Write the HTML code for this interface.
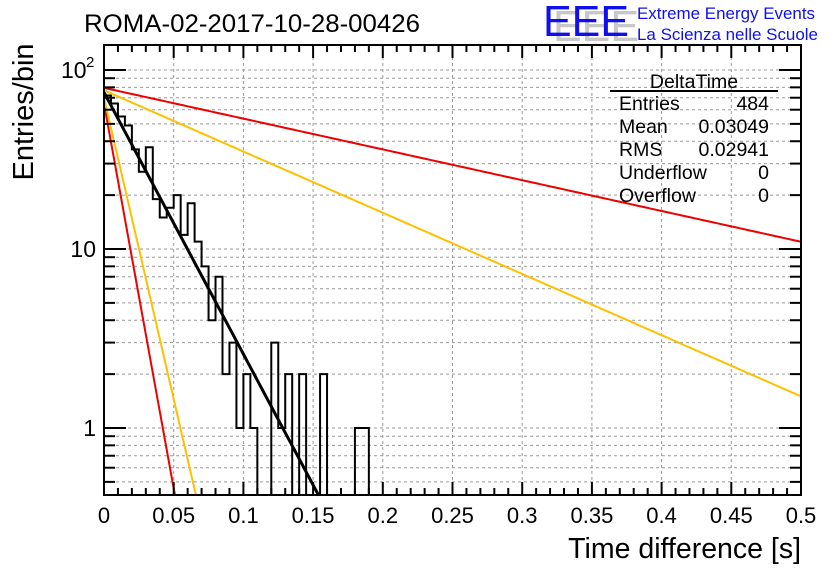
<!DOCTYPE html>
<html><head><meta charset="utf-8"><style>
html,body{margin:0;padding:0;background:#fff;}
svg{display:block;font-family:"Liberation Sans",sans-serif;}
</style></head><body>
<svg id="c" width="836" height="572" viewBox="0 0 836 572">
<rect width="836" height="572" fill="#fff"/>
<text x="84" y="32" font-size="25" fill="#000" textLength="336" lengthAdjust="spacingAndGlyphs">ROMA-02-2017-10-28-00426</text>
<g>
<text x="553" y="41" font-size="44" fill="#c8c8c8" textLength="86" lengthAdjust="spacingAndGlyphs">EEE</text>
<text x="543" y="36" font-size="44" fill="#1010ee" textLength="86" lengthAdjust="spacingAndGlyphs">EEE</text>
<text x="637" y="19" font-size="16.5" fill="#1010ee" textLength="178" lengthAdjust="spacingAndGlyphs">Extreme Energy Events</text>
<text x="637" y="40" font-size="16.5" fill="#1010ee" textLength="181" lengthAdjust="spacingAndGlyphs">La Scienza nelle Scuole</text>
</g>
<g id="grid"></g>
<g id="marks"></g>
<g id="axes"></g>
<g font-size="19.5" fill="#000">
<text x="694" y="88" text-anchor="middle">DeltaTime</text>
<line x1="610" y1="91" x2="778" y2="91" stroke="#000" stroke-width="2"/>
<text x="619" y="110">Entries</text><text x="769" y="110" text-anchor="end">484</text>
<text x="619" y="133">Mean</text><text x="769" y="133" text-anchor="end">0.03049</text>
<text x="619" y="156">RMS</text><text x="769" y="156" text-anchor="end">0.02941</text>
<text x="619" y="179">Underflow</text><text x="769" y="179" text-anchor="end">0</text>
<text x="619" y="202">Overflow</text><text x="769" y="202" text-anchor="end">0</text>
</g>
<text x="801" y="558" font-size="28.5" text-anchor="end">Time difference [s]</text>
<text transform="translate(33,112) rotate(-90)" font-size="29" text-anchor="middle">Entries/bin</text>
</svg>
<script>
const binCounts = [72,65,55,49,36,27,37,19,15,17,20,12,18,11,8,4,7,2,3,1,2,1,0,0,3,1,2,0,2,0,0,2,0,0,0,0,1,1];
const binWidth = 0.005;
const xTicks = [0,0.05,0.1,0.15,0.2,0.25,0.3,0.35,0.4,0.45,0.5];
const xTickLabels = ["0","0.05","0.1","0.15","0.2","0.25","0.3","0.35","0.4","0.45","0.5"];
const fitCurves = [
  {name:"fit-black", color:"#000", width:3, amp:75, tau:0.0297},
  {name:"fit-red-slow", color:"#ee0000", width:2, amp:79.5, tau:0.2525},
  {name:"fit-yellow-slow", color:"#ffc000", width:2, amp:77, tau:0.127},
  {name:"fit-red-fast", color:"#ee0000", width:2, amp:65, tau:0.0101},
  {name:"fit-yellow-fast", color:"#ffc000", width:2, amp:70, tau:0.0129}
];
const X0=104,X1=801,Y0=495,YT=45;
const yMin=0.42, yMax=143;
const sx=t=>X0+(t/0.5)*(X1-X0);
const sy=v=>428-179*Math.log10(v);
const NS="http://www.w3.org/2000/svg";
function mk(tag,attrs,parent){const e=document.createElementNS(NS,tag);for(const k in attrs)e.setAttribute(k,attrs[k]);parent.appendChild(e);return e;}
const grid=document.getElementById('grid'),marks=document.getElementById('marks'),axes=document.getElementById('axes');
xTicks.forEach(t=>{if(t>0&&t<0.5){const l=mk('line',{x1:sx(t),x2:sx(t),y1:YT,y2:Y0,stroke:'#999','stroke-dasharray':'3,3','stroke-width':1},grid);

}});
const yMinor=[];
[0.1,1,10,100].forEach(d=>{for(let k=1;k<10;k++){const v=d*k;if(v>=yMin&&v<=yMax)yMinor.push(v);}});
yMinor.forEach(v=>{const l=mk('line',{x1:X0,x2:X1,y1:sy(v),y2:sy(v),stroke:'#999','stroke-dasharray':'3,3','stroke-width':1},grid);

});
let d='M'+X0+','+Y0;
binCounts.forEach((c,i)=>{const y=c>0?Math.max(YT,Math.min(Y0,sy(c))):Y0;d+=' L'+sx(i*binWidth)+','+y+' L'+sx((i+1)*binWidth)+','+y;});
d+=' L'+sx(binCounts.length*binWidth)+','+Y0;
const h=mk('path',{d:d,fill:'none',stroke:'#000','stroke-width':2},marks);


fitCurves.forEach(f=>{let p='';for(let i=0;i<=400;i++){const t=i/400*0.5;const v=f.amp*Math.exp(-t/f.tau);if(v<yMin){const tEnd=f.tau*Math.log(f.amp/yMin);p+=' L'+sx(tEnd)+','+Y0;break;}p+=(p?' L':'M')+sx(t)+','+sy(v);}
const e=mk('path',{d:p,fill:'none',stroke:f.color,'stroke-width':f.width},marks);

});
const fr=mk('rect',{x:X0,y:YT,width:X1-X0,height:Y0-YT,fill:'none',stroke:'#000','stroke-width':2},axes);


for(let i=0;i<=50;i++){const t=i*0.01;const len=(i%5===0)?13:7;const x=sx(t);
mk('line',{x1:x,x2:x,y1:Y0,y2:Y0-len,stroke:'#000','stroke-width':2},axes);
mk('line',{x1:x,x2:x,y1:YT,y2:YT+len,stroke:'#000','stroke-width':2},axes);}
xTicks.forEach((t,i)=>{const tx=mk('text',{x:sx(t),y:523,'font-size':22,'text-anchor':'middle'},axes);tx.textContent=xTickLabels[i];

});
yMinor.forEach(v=>{const major=[1,10,100].includes(Math.round(v*1000)/1000);const len=major?22:11;const y=sy(v);
mk('line',{x1:X0,x2:X0+len,y1:y,y2:y,stroke:'#000','stroke-width':2},axes);
mk('line',{x1:X1,x2:X1-len,y1:y,y2:y,stroke:'#000','stroke-width':2},axes);});
[[1,'1'],[10,'10']].forEach(([v,s])=>{const tx=mk('text',{x:96,y:sy(v)+8,'font-size':23,'text-anchor':'end'},axes);tx.textContent=s;

});
const t2=mk('text',{x:61,y:sy(100)+8,'font-size':23},axes);t2.textContent='10';


const t3=mk('text',{x:86,y:sy(100)-3,'font-size':15},axes);t3.textContent='2';


</script>
</body></html>
